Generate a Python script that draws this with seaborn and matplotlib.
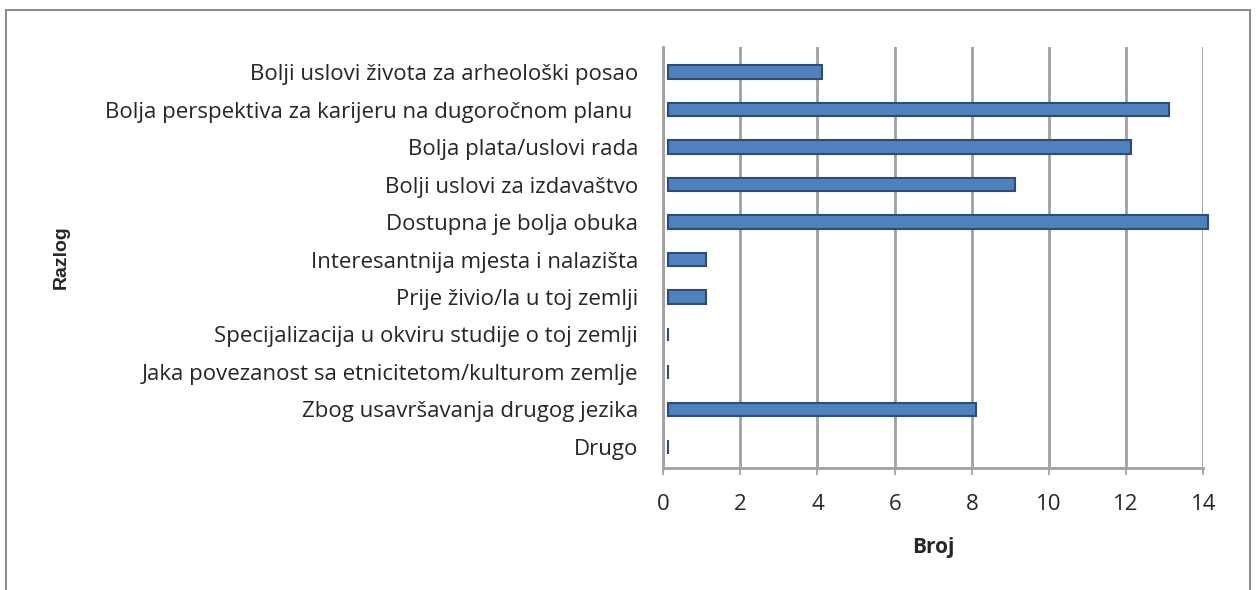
import numpy as np
import pandas as pd
import matplotlib
matplotlib.use("Agg")
from matplotlib import pyplot as plt
from matplotlib.patches import Rectangle
import seaborn as sns

reasons = [
    "Bolji uslovi života za arheološki posao",
    "Bolja perspektiva za karijeru na dugoročnom planu ",
    "Bolja plata/uslovi rada",
    "Bolji uslovi za izdavaštvo",
    "Dostupna je bolja obuka",
    "Interesantnija mjesta i nalazišta",
    "Prije živio/la u toj zemlji",
    "Specijalizacija u okviru studije o toj zemlji",
    "Jaka povezanost sa etnicitetom/kulturom zemlje",
    "Zbog usavršavanja drugog jezika",
    "Drugo",
]
counts = [4, 13, 12, 9, 14, 1, 1, 0, 0, 8, 0]
xticks = [0, 2, 4, 6, 8, 10, 12, 14]

df = pd.DataFrame({"Razlog": reasons, "Broj": counts})

sns.set_theme(style="white")
plt.rcParams["font.family"] = ["Open Sans", "DejaVu Sans"]

fig = plt.figure(figsize=(12.56, 5.90), dpi=100)
ax = fig.add_axes([0.528, 0.207, 0.430, 0.713])

sns.barplot(data=df, y="Razlog", x="Broj", orient="h", ax=ax,
            color="#4F81BD", width=0.36, edgecolor="#2C4D75", linewidth=1.5,
            saturation=1)
# small depth offset like the 3D original
for p in ax.patches:
    p.set_clip_on(False)
    p.set_x(p.get_x() + 0.12)

ax.set_xlim(0, 14)
ax.set_ylim(10.56, -0.667)
ax.set_xticks(xticks)
ax.set_xticklabels([str(t) for t in xticks], fontsize=16)
ax.tick_params(axis="y", labelsize=16, length=0, pad=18)
ax.tick_params(axis="x", length=5, color="#A0A0A0", bottom=True, pad=14)
ax.xaxis.grid(True, color="#A0A0A0", linewidth=2)
ax.set_axisbelow(True)
for s in ["top", "right"]:
    ax.spines[s].set_visible(False)
for s in ["left", "bottom"]:
    ax.spines[s].set_color("#A0A0A0")
    ax.spines[s].set_linewidth(2)

ax.set_xlabel("Broj", fontsize=15, fontweight="bold", labelpad=16)
ax.set_ylabel("")
fig.text(0.049, 0.565, "Razlog", rotation=90, fontsize=14, fontweight="bold",
         ha="center", va="center", family=["Liberation Sans", "DejaVu Sans"])

fig.patches.append(Rectangle((0.005, -0.1), 0.99, 1.083, transform=fig.transFigure,
                             fill=False, edgecolor="#8C8C8C", linewidth=1.5))

fig.savefig("out.png", dpi=100)
